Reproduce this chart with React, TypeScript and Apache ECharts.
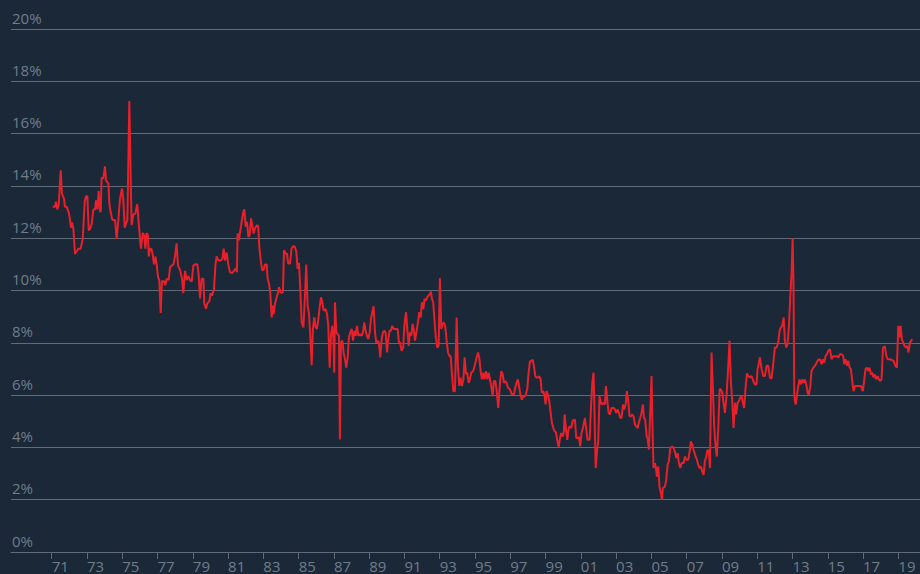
import React, { useEffect, useRef } from "react";
import * as echarts from "echarts";

// [year (decimal), rate %]
const rates1971to1980: [number, number][] = [
  [1971.06, 13.2], [1971.19, 13.2], [1971.24, 13.4], [1971.32, 13.1], [1971.4, 13.3], [1971.51, 14.6],
  [1971.58, 13.7], [1971.7, 13.5], [1971.75, 13.2], [1971.85, 13.2], [1971.96, 13.0], [1972.04, 12.7],
  [1972.09, 12.4], [1972.15, 12.6], [1972.23, 12.35], [1972.32, 11.4], [1972.42, 11.5], [1972.51, 11.6],
  [1972.64, 11.6], [1972.76, 11.97], [1972.87, 13.4], [1972.94, 13.6], [1973.02, 13.6], [1973.1, 12.3],
  [1973.17, 12.35], [1973.27, 12.55], [1973.36, 13.1], [1973.46, 13.1], [1973.51, 13.45], [1973.59, 13.1],
  [1973.66, 13.8], [1973.74, 13.05], [1973.78, 13.0], [1973.83, 14.3], [1973.93, 14.3], [1974.02, 14.75],
  [1974.08, 14.2], [1974.15, 14.15], [1974.21, 14.1], [1974.27, 13.3], [1974.34, 13.0], [1974.44, 12.7],
  [1974.59, 12.7], [1974.68, 11.97], [1974.78, 12.7], [1974.87, 13.5], [1974.99, 13.9], [1975.06, 13.45],
  [1975.14, 12.4], [1975.21, 12.55], [1975.29, 12.7], [1975.4, 17.25], [1975.53, 12.5], [1975.63, 12.9],
  [1975.74, 12.95], [1975.85, 13.3], [1975.93, 12.6], [1976.01, 11.97], [1976.06, 11.6], [1976.16, 12.2],
  [1976.25, 12.1], [1976.31, 11.6], [1976.38, 12.2], [1976.46, 12.1], [1976.5, 11.3], [1976.57, 11.6],
  [1976.65, 11.6], [1976.72, 11.4], [1976.8, 11.0], [1976.88, 11.3], [1976.95, 11.0], [1977.03, 10.5],
  [1977.1, 10.4], [1977.18, 9.14], [1977.25, 10.35], [1977.37, 10.35], [1977.44, 10.2], [1977.52, 10.45],
  [1977.63, 10.4], [1977.71, 10.9], [1977.8, 10.95], [1977.9, 11.0], [1977.99, 11.3], [1978.08, 11.8],
  [1978.16, 10.95], [1978.27, 10.8], [1978.39, 10.45], [1978.46, 9.9], [1978.56, 10.75], [1978.65, 10.4],
  [1978.75, 10.55], [1978.84, 10.4], [1978.94, 10.35], [1979.03, 10.95], [1979.14, 11.0], [1979.26, 11.0],
  [1979.33, 10.6], [1979.41, 9.7], [1979.5, 10.45], [1979.6, 10.45], [1979.65, 9.5], [1979.75, 9.3],
  [1979.82, 9.5], [1979.94, 9.6], [1980.01, 9.9], [1980.09, 9.8], [1980.2, 10.05], [1980.28, 10.95],
  [1980.35, 11.3], [1980.45, 11.15], [1980.58, 11.15], [1980.67, 11.2], [1980.75, 11.6], [1980.82, 11.15],
  [1980.92, 11.45],
];

const rates1981to1990: [number, number][] = [
  [1981.01, 11.0], [1981.11, 10.7], [1981.24, 10.67], [1981.35, 10.77], [1981.45, 10.86], [1981.5, 10.7],
  [1981.54, 12.18], [1981.62, 11.92], [1981.67, 12.18], [1981.77, 12.63], [1981.86, 13.0], [1981.92, 13.1],
  [1982.0, 12.44], [1982.07, 12.63], [1982.15, 12.05], [1982.22, 12.1], [1982.3, 12.76], [1982.37, 12.5],
  [1982.45, 12.18], [1982.52, 12.37], [1982.64, 12.5], [1982.71, 12.44], [1982.77, 11.67], [1982.86, 11.09],
  [1982.94, 10.77], [1983.02, 10.8], [1983.09, 10.99], [1983.19, 10.99], [1983.24, 10.47], [1983.32, 10.26],
  [1983.39, 9.94], [1983.47, 8.97], [1983.53, 9.42], [1983.58, 9.1], [1983.66, 9.49], [1983.73, 9.68],
  [1983.81, 9.87], [1983.89, 10.13], [1983.96, 9.94], [1984.04, 9.91], [1984.11, 9.94], [1984.17, 11.54],
  [1984.26, 11.41], [1984.34, 11.41], [1984.41, 11.03], [1984.51, 11.03], [1984.6, 11.6], [1984.7, 11.7],
  [1984.79, 11.67], [1984.87, 11.47], [1984.94, 10.83], [1985.02, 11.06], [1985.09, 10.13], [1985.17, 8.78],
  [1985.27, 8.59], [1985.36, 9.81], [1985.43, 10.99], [1985.51, 9.42], [1985.59, 9.1], [1985.66, 8.27],
  [1985.74, 7.14], [1985.81, 8.53], [1985.89, 8.97], [1985.96, 8.59], [1986.04, 8.53], [1986.12, 8.91],
  [1986.19, 9.36], [1986.27, 9.74], [1986.34, 9.55], [1986.42, 9.23], [1986.53, 9.29], [1986.61, 9.1],
  [1986.68, 8.65], [1986.76, 7.05], [1986.83, 8.27], [1986.91, 8.65], [1986.97, 8.14], [1987.02, 6.86],
  [1987.06, 9.55], [1987.14, 8.4], [1987.21, 8.33], [1987.29, 8.27], [1987.34, 4.3], [1987.4, 8.01],
  [1987.48, 8.08], [1987.55, 7.63], [1987.63, 7.37], [1987.7, 7.05], [1987.78, 7.44], [1987.85, 8.2],
  [1987.93, 8.4], [1988.01, 8.53], [1988.08, 8.08], [1988.16, 8.46], [1988.23, 8.27], [1988.31, 8.65],
  [1988.38, 8.27], [1988.48, 8.33], [1988.57, 8.27], [1988.65, 8.4], [1988.72, 8.78], [1988.8, 8.46],
  [1988.87, 8.27], [1988.95, 8.14], [1989.03, 8.4], [1989.1, 8.91], [1989.18, 9.17], [1989.25, 9.4],
  [1989.33, 8.4], [1989.4, 8.01], [1989.48, 8.08], [1989.55, 8.01], [1989.63, 7.44], [1989.71, 8.14],
  [1989.78, 8.4], [1989.86, 8.46], [1989.93, 8.4], [1990.01, 7.63], [1990.08, 8.14], [1990.16, 8.46],
  [1990.23, 8.46], [1990.31, 8.65], [1990.39, 8.53], [1990.46, 8.53], [1990.54, 8.53], [1990.61, 8.53],
  [1990.69, 8.01],
];

const rates1990to2000: [number, number][] = [
  [1990.75, 8.01], [1990.84, 7.69], [1990.93, 7.82], [1990.99, 8.65], [1991.09, 9.17], [1991.16, 8.53],
  [1991.24, 7.88], [1991.31, 8.4], [1991.39, 8.27], [1991.46, 8.72], [1991.54, 8.46], [1991.6, 8.08],
  [1991.69, 8.46], [1991.78, 8.85], [1991.84, 9.17], [1991.92, 8.97], [1991.99, 9.55], [1992.07, 9.29],
  [1992.14, 9.68], [1992.22, 9.62], [1992.29, 9.74], [1992.37, 9.81], [1992.45, 9.87], [1992.5, 9.96],
  [1992.56, 9.68], [1992.63, 9.55], [1992.69, 8.97], [1992.77, 8.27], [1992.86, 7.82], [1992.94, 7.88],
  [1993.01, 10.47], [1993.09, 8.53], [1993.16, 8.72], [1993.24, 8.78], [1993.32, 8.59], [1993.39, 8.08],
  [1993.47, 7.63], [1993.54, 7.5], [1993.62, 7.5], [1993.69, 6.86], [1993.77, 6.15], [1993.86, 6.15],
  [1993.96, 8.97], [1994.03, 7.05], [1994.11, 6.35], [1994.18, 6.67], [1994.26, 6.35], [1994.34, 6.6],
  [1994.41, 7.44], [1994.49, 6.8], [1994.56, 6.86], [1994.64, 6.47], [1994.71, 6.6], [1994.79, 6.86],
  [1994.9, 6.92], [1995.0, 7.18], [1995.09, 7.44], [1995.17, 7.63], [1995.24, 7.44], [1995.32, 6.92],
  [1995.39, 6.6], [1995.47, 6.86], [1995.54, 6.6], [1995.62, 6.92], [1995.7, 6.6], [1995.77, 6.86],
  [1995.85, 6.6], [1995.92, 6.35], [1996.0, 5.96], [1996.07, 6.54], [1996.15, 6.54], [1996.22, 6.22],
  [1996.32, 5.51], [1996.41, 6.41], [1996.49, 6.92], [1996.57, 6.8], [1996.64, 6.47], [1996.72, 6.54],
  [1996.79, 6.47], [1996.87, 6.28], [1996.98, 6.22], [1997.09, 6.03], [1997.21, 6.03], [1997.28, 6.28],
  [1997.36, 6.47], [1997.43, 6.6], [1997.51, 6.28], [1997.59, 5.96], [1997.66, 5.83], [1997.74, 5.96],
  [1997.85, 5.96], [1997.96, 6.22], [1998.04, 6.86], [1998.11, 7.27], [1998.19, 7.31], [1998.27, 7.35],
  [1998.34, 7.12], [1998.42, 6.73], [1998.49, 6.67], [1998.57, 6.67], [1998.64, 6.73], [1998.72, 6.6],
  [1998.79, 6.09], [1998.87, 6.15], [1998.95, 5.96], [1999.0, 5.64], [1999.06, 6.15], [1999.13, 6.03],
  [1999.21, 5.77], [1999.29, 5.32], [1999.36, 4.94], [1999.44, 4.74], [1999.51, 4.62], [1999.59, 4.58],
  [1999.66, 4.29], [1999.74, 4.01], [1999.82, 4.36], [1999.89, 4.55], [1999.97, 4.42], [2000.04, 4.62],
  [2000.08, 5.26], [2000.16, 4.68], [2000.23, 4.29], [2000.31, 4.74], [2000.38, 4.81], [2000.46, 4.74],
  [2000.53, 5.0], [2000.61, 5.06],
];

const rates2000to2010: [number, number][] = [
  [2000.67, 5.04], [2000.74, 4.36], [2000.82, 4.36], [2000.89, 4.4], [2000.97, 4.04], [2001.04, 4.55],
  [2001.14, 4.81], [2001.23, 5.13], [2001.31, 4.68], [2001.38, 4.29], [2001.5, 4.29], [2001.57, 5.45],
  [2001.65, 6.47], [2001.72, 6.86], [2001.76, 5.83], [2001.84, 3.21], [2001.91, 3.78], [2001.99, 4.29],
  [2002.06, 5.96], [2002.14, 5.71], [2002.21, 5.64], [2002.29, 5.71], [2002.37, 5.64], [2002.42, 6.35],
  [2002.5, 5.83], [2002.57, 5.32], [2002.65, 5.26], [2002.74, 5.51], [2002.86, 5.51], [2002.93, 5.45],
  [2003.01, 5.32], [2003.08, 5.45], [2003.16, 5.32], [2003.23, 5.13], [2003.31, 5.13], [2003.39, 5.64],
  [2003.46, 5.45], [2003.54, 5.64], [2003.61, 6.15], [2003.69, 5.77], [2003.76, 5.19], [2003.84, 5.19],
  [2003.92, 5.26], [2003.99, 5.19], [2004.07, 4.87], [2004.14, 4.81], [2004.22, 4.74], [2004.29, 4.94],
  [2004.37, 5.13], [2004.44, 5.32], [2004.52, 5.64], [2004.58, 5.13], [2004.65, 5.06], [2004.73, 4.42],
  [2004.78, 4.36], [2004.86, 3.91], [2004.94, 5.45], [2005.01, 6.73], [2005.07, 4.55], [2005.12, 3.21],
  [2005.2, 3.4], [2005.26, 3.21], [2005.31, 2.88], [2005.39, 3.27], [2005.46, 2.5], [2005.54, 2.24],
  [2005.6, 1.99], [2005.65, 2.44], [2005.77, 2.5], [2005.84, 2.76], [2005.92, 3.33], [2005.99, 3.46],
  [2006.07, 3.97], [2006.18, 4.04], [2006.26, 3.97], [2006.33, 3.85], [2006.41, 3.59], [2006.49, 3.78],
  [2006.56, 3.4], [2006.64, 3.21], [2006.71, 3.4], [2006.83, 3.4], [2006.9, 3.65], [2006.98, 3.53],
  [2007.09, 3.53], [2007.17, 3.85], [2007.24, 4.23], [2007.32, 4.1], [2007.39, 3.91], [2007.51, 3.65],
  [2007.58, 3.53], [2007.66, 3.33], [2007.73, 3.21], [2007.81, 3.27], [2007.88, 3.08], [2007.96, 2.95],
  [2008.03, 3.46], [2008.11, 3.65], [2008.19, 3.91], [2008.26, 3.85], [2008.32, 3.21], [2008.41, 7.63],
  [2008.49, 6.22], [2008.56, 4.81], [2008.64, 4.04], [2008.71, 3.65], [2008.79, 4.68], [2008.87, 6.22],
  [2008.94, 6.22], [2009.02, 6.09], [2009.09, 5.71], [2009.17, 5.32], [2009.26, 5.96], [2009.36, 7.12],
  [2009.43, 8.08], [2009.51, 6.47], [2009.58, 5.83], [2009.66, 4.74], [2009.74, 5.71], [2009.81, 5.26],
  [2009.89, 5.71], [2009.96, 5.77], [2010.04, 5.9], [2010.11, 5.96], [2010.19, 5.71], [2010.26, 5.51],
  [2010.34, 6.28], [2010.42, 6.83],
];

const rates2010to2019: [number, number][] = [
  [2010.49, 6.73], [2010.59, 6.67], [2010.68, 6.73], [2010.78, 6.54], [2010.87, 6.41], [2010.96, 6.41],
  [2011.02, 6.99], [2011.1, 7.24], [2011.15, 7.44], [2011.25, 6.99], [2011.34, 6.73], [2011.44, 6.73],
  [2011.53, 7.12], [2011.63, 7.12], [2011.72, 6.67], [2011.81, 6.63], [2011.91, 7.18], [2012.0, 7.82],
  [2012.1, 7.82], [2012.19, 8.01], [2012.27, 8.46], [2012.34, 8.59], [2012.42, 8.65], [2012.5, 8.97],
  [2012.57, 8.08], [2012.65, 7.82], [2012.72, 7.95], [2012.8, 8.65], [2012.87, 9.68], [2012.95, 10.71],
  [2013.01, 12.0], [2013.06, 10.06], [2013.1, 5.96], [2013.18, 5.64], [2013.25, 5.96], [2013.33, 6.35],
  [2013.4, 6.6], [2013.48, 6.41], [2013.55, 6.6], [2013.63, 6.47], [2013.7, 6.6], [2013.78, 6.41],
  [2013.86, 6.09], [2013.93, 6.0], [2014.01, 6.35], [2014.08, 6.92], [2014.18, 7.05], [2014.27, 7.12],
  [2014.37, 7.24], [2014.46, 7.35], [2014.56, 7.37], [2014.65, 7.18], [2014.73, 7.37], [2014.8, 7.24],
  [2014.88, 7.5], [2014.95, 7.56], [2015.03, 7.69], [2015.12, 7.76], [2015.22, 7.37], [2015.31, 7.5],
  [2015.41, 7.47], [2015.5, 7.5], [2015.6, 7.44], [2015.69, 7.56], [2015.78, 7.56], [2015.88, 7.5],
  [2015.93, 7.18], [2016.01, 7.37], [2016.09, 7.12], [2016.16, 7.31], [2016.24, 7.05], [2016.31, 6.99],
  [2016.39, 6.54], [2016.46, 6.15], [2016.54, 6.35], [2016.65, 6.35], [2016.77, 6.35], [2016.88, 6.35],
  [2016.99, 6.15], [2017.07, 6.6], [2017.14, 6.99], [2017.22, 7.05], [2017.3, 6.92], [2017.37, 7.05],
  [2017.45, 6.79], [2017.52, 6.86], [2017.6, 6.67], [2017.67, 6.79], [2017.75, 6.6], [2017.82, 6.73],
  [2017.9, 6.6], [2017.97, 6.54], [2018.05, 6.6], [2018.13, 7.82], [2018.24, 7.86], [2018.32, 7.5],
  [2018.39, 7.37], [2018.5, 7.37], [2018.62, 7.35], [2018.73, 7.31], [2018.84, 7.12], [2018.92, 7.05],
  [2019.0, 8.65], [2019.07, 8.21], [2019.13, 8.65], [2019.2, 8.14], [2019.28, 8.01], [2019.35, 7.88],
  [2019.43, 7.82], [2019.51, 7.88], [2019.58, 7.63], [2019.66, 8.01], [2019.73, 8.08], [2019.79, 8.14],
];

const xTickYears: number[] = [
  1971, 1973, 1975, 1977, 1979, 1981, 1983, 1985, 1987, 1989, 1991, 1993, 1995,
  1997, 1999, 2001, 2003, 2005, 2007, 2009, 2011, 2013, 2015, 2017, 2019,
];
const xMin = 1968.692;
const xMax = 2020.23;
const yMin = 0;
const yMax = 20;
const yStep = 2;

const BG = "#1b2838";
const GRID = "#5f6b78";
const LABEL = "#6f7d8b";
const RED = "#e8202a";
const FONT = "'Open Sans', 'Noto Sans', sans-serif";

export default function App() {
  const ref = useRef<HTMLDivElement>(null);
  useEffect(() => {
    if (!ref.current) return;
    const chart = echarts.init(ref.current, undefined, { renderer: "svg" });
    const data = [
      ...rates1971to1980,
      ...rates1981to1990,
      ...rates1990to2000,
      ...rates2000to2010,
      ...rates2010to2019,
    ];
    chart.setOption({
      animation: false,
      backgroundColor: BG,
      grid: { left: 11, right: 0, top: 29, bottom: 22, containLabel: false },
      xAxis: {
        type: "value",
        min: xMin,
        max: xMax,
        splitLine: { show: false },
        axisLine: { show: true, lineStyle: { color: GRID, width: 1 } },
        axisTick: {
          show: true,
          customValues: xTickYears,
          length: 7,
          lineStyle: { color: GRID, width: 1 },
        },
        axisLabel: {
          customValues: xTickYears,
          formatter: (v: number) => String(Math.round(v) % 100).padStart(2, "0"),
          color: LABEL,
          fontSize: 15,
          fontFamily: FONT,
          align: "left",
          margin: 6,
        },
      },
      yAxis: {
        type: "value",
        min: yMin,
        max: yMax,
        interval: yStep,
        axisLine: { show: false },
        axisTick: { show: false },
        splitLine: { show: true, lineStyle: { color: GRID, width: 1 } },
        axisLabel: {
          inside: true,
          margin: 1,
          formatter: "{value}%",
          color: LABEL,
          fontSize: 15,
          fontFamily: FONT,
          verticalAlign: "bottom",
          lineHeight: 15,
          padding: [0, 0, 4, 0],
        },
      },
      series: [
        {
          type: "line",
          data,
          showSymbol: false,
          symbol: "none",
          lineStyle: { color: RED, width: 2 },
          z: 3,
        },
      ],
    });
    return () => chart.dispose();
  }, []);
  return (
    <div
      ref={ref}
      style={{ position: "fixed", left: 0, top: 0, width: 920, height: 574 }}
    />
  );
}
